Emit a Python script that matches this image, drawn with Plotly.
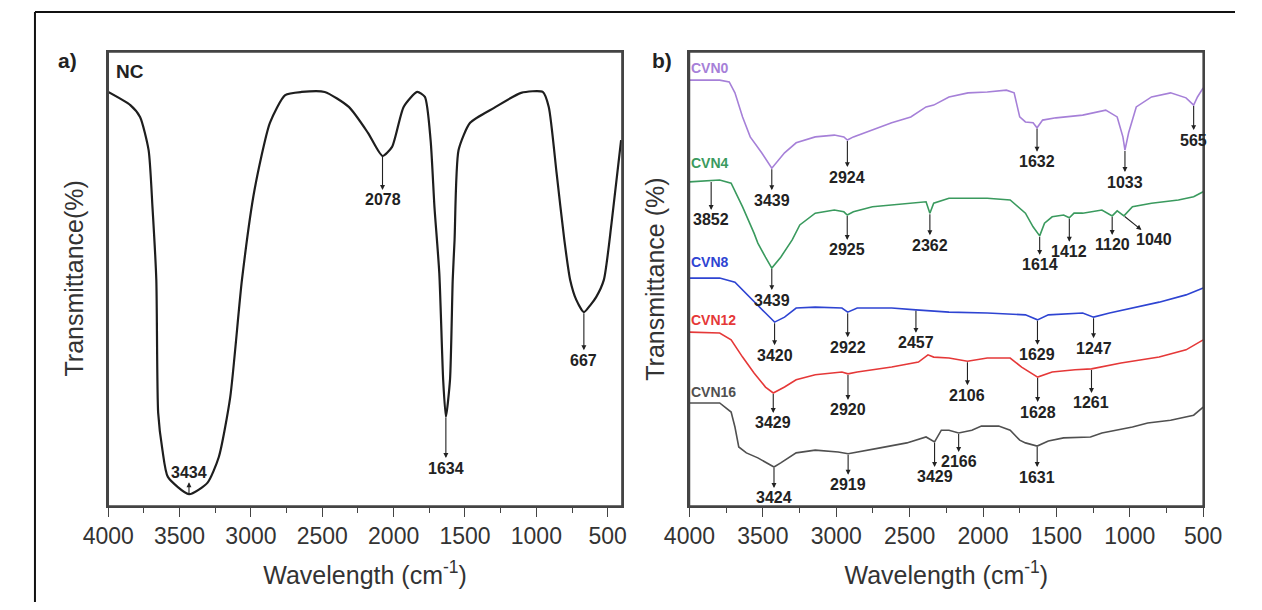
import numpy as np
import plotly.graph_objects as go

# ---------------- data ----------------
# Panel a) NC
nc_wn = [4000, 3845, 3777, 3717, 3690, 3663, 3650, 3620, 3582, 3434, 3305, 3225, 3145, 3063, 2975,
         2867, 2760, 2645, 2483, 2314, 2180, 2078, 2011, 1930, 1835, 1781, 1741, 1714, 1680, 1653,
         1634, 1605, 1586, 1573, 1545, 1464, 1296, 1107, 955, 913, 858, 804, 763, 720, 667, 620,
         581, 527, 473, 406]
nc_t = [91.2, 88.3, 85.7, 78.4, 65.9, 49.8, 20.5, 12.3, 6.4, 2.6, 5.1, 10.8, 24.0, 49.8, 69.6,
        84.4, 90.5, 91.2, 91.2, 87.9, 82.2, 77.1, 79.1, 87.9, 91.2, 90.1, 80.6, 65.9, 51.3, 27.8,
        19.6, 27.8, 49.8, 58.6, 78.4, 84.4, 87.7, 91.0, 91.2, 87.9, 73.3, 58.6, 49.8, 45.4, 42.7, 44.3,
        46.0, 49.8, 62.3, 80.6]

# Panel b)
cvn0_wn = [4000, 3794, 3729, 3690, 3638, 3586, 3508, 3439, 3352, 3273, 3143, 3013, 2948, 2924, 2883,
           2753, 2622, 2492, 2388, 2336, 2232, 2102, 1971, 1841, 1788, 1750, 1711, 1659, 1632, 1594,
           1503, 1321, 1164, 1086, 1047, 1033, 1008, 956, 852, 722, 617, 565, 539, 500]
cvn0_t = [93.8, 93.8, 93.4, 91.0, 85.7, 81.3, 77.8, 74.4, 77.8, 80.0, 81.3, 81.7, 81.3, 80.6, 81.3,
          82.8, 84.4, 85.7, 87.9, 88.3, 90.1, 91.0, 91.2, 91.6, 91.0, 85.7, 84.6, 84.4, 83.3, 85.0,
          85.5, 86.1, 87.2, 85.7, 81.3, 78.4, 82.2, 87.9, 90.1, 91.0, 89.9, 88.3, 90.1, 92.1]

cvn4_wn = [4000, 3852, 3794, 3716, 3638, 3560, 3534, 3482, 3439, 3378, 3300, 3248, 3143, 3013, 2948,
           2925, 2883, 2753, 2492, 2388, 2362, 2336, 2232, 1971, 1815, 1711, 1659, 1614, 1581, 1529,
           1451, 1412, 1380, 1321, 1190, 1120, 1086, 1040, 982, 852, 669, 565, 500]
cvn4_t = [71.4, 71.6, 71.8, 71.1, 65.9, 60.1, 57.9, 54.8, 52.4, 54.8, 58.6, 61.9, 64.5, 65.2, 64.8,
          64.1, 64.8, 65.9, 66.7, 67.0, 64.5, 66.7, 67.8, 67.8, 67.4, 64.5, 61.5, 59.5, 62.3, 63.7,
          64.1, 63.5, 64.5, 64.5, 65.2, 63.9, 65.0, 63.9, 65.9, 66.7, 67.4, 68.1, 69.2]

cvn8_wn = [4000, 3794, 3690, 3586, 3482, 3420, 3352, 3273, 3143, 2961, 2922, 2857, 2622, 2457, 2232,
           1971, 1711, 1629, 1555, 1321, 1247, 1138, 982, 800, 617, 500]
cvn8_t = [50.2, 50.2, 49.3, 46.0, 42.5, 40.5, 41.6, 43.6, 43.8, 43.6, 42.7, 43.6, 43.6, 43.2, 42.7,
          42.5, 42.1, 41.0, 42.1, 42.5, 41.6, 42.5, 43.6, 44.9, 46.5, 48.0]

cvn12_wn = [4000, 3794, 3716, 3638, 3560, 3482, 3429, 3352, 3273, 3143, 2961, 2920, 2857, 2622, 2440,
            2375, 2336, 2232, 2106, 1971, 1815, 1737, 1628, 1529, 1373, 1261, 1060, 800, 617, 500]
cvn12_t = [38.3, 38.1, 36.6, 32.8, 29.3, 26.2, 24.9, 26.2, 27.8, 28.9, 29.5, 29.1, 29.5, 30.6, 31.7,
           33.3, 32.8, 32.6, 31.9, 32.6, 32.6, 30.6, 28.4, 29.5, 30.0, 30.2, 31.5, 32.8, 34.4, 36.6]

cvn16_wn = [4000, 3794, 3716, 3690, 3664, 3612, 3534, 3424, 3378, 3273, 3143, 2987, 2919, 2857, 2701,
            2519, 2388, 2330, 2284, 2232, 2166, 2076, 2011, 1893, 1815, 1750, 1711, 1631, 1555, 1451,
            1268, 1190, 982, 878, 722, 565, 500]
cvn16_t = [22.7, 22.7, 20.7, 17.4, 13.0, 11.7, 10.6, 8.6, 9.5, 11.7, 12.3, 11.9, 11.5, 11.9, 12.8,
           13.9, 15.2, 14.1, 16.7, 16.7, 16.1, 16.7, 17.6, 17.6, 16.7, 14.5, 13.9, 13.2, 14.3, 15.0,
           15.2, 16.1, 17.4, 18.3, 18.9, 20.0, 21.8]

series_names = ["CVN0", "CVN4", "CVN8", "CVN12", "CVN16"]
series_wn = [cvn0_wn, cvn4_wn, cvn8_wn, cvn12_wn, cvn16_wn]
series_t = [cvn0_t, cvn4_t, cvn8_t, cvn12_t, cvn16_t]
series_colors = ["#a680d8", "#3a9a5e", "#2e44d2", "#e53838", "#505050"]
name_label_y = [96.5, 75.6, 53.7, 41.0, 25.1]

# peak labels: (wavenumber, text, ax px, ay px)
nc_peaks = [(3434, "3434", 0, -22), (2078, "2078", 0, 44), (1634, "1634", 0, 51), (667, "667", 0, 48)]
b_peaks = [
    ("CVN0", 3439, "3439", 0, 32), ("CVN0", 2924, "2924", 0, 37), ("CVN0", 1632, "1632", 0, 34),
    ("CVN0", 1033, "1033", 0, 32), ("CVN0", 565, "565", 0, 35),
    ("CVN4", 3852, "3852", 0, 39), ("CVN4", 3439, "3439", 0, 32), ("CVN4", 2925, "2925", 0, 35),
    ("CVN4", 2362, "2362", 0, 32), ("CVN4", 1614, "1614", 0, 29), ("CVN4", 1412, "1412", 0, 34),
    ("CVN4", 1120, "1120", 0, 29), ("CVN4", 1040, "1040", 30, 24),
    ("CVN8", 3420, "3420", 0, 33), ("CVN8", 2922, "2922", 0, 35), ("CVN8", 2457, "2457", 0, 33),
    ("CVN8", 1629, "1629", 0, 35), ("CVN8", 1247, "1247", 0, 31),
    ("CVN12", 3429, "3429", 0, 30), ("CVN12", 2920, "2920", 0, 36), ("CVN12", 2106, "2106", 0, 34),
    ("CVN12", 1628, "1628", 0, 35), ("CVN12", 1261, "1261", 0, 34),
    ("CVN16", 3424, "3424", 0, 31), ("CVN16", 2919, "2919", 0, 31), ("CVN16", 2330, "3429", 0, 35),
    ("CVN16", 2166, "2166", 0, 29), ("CVN16", 1631, "1631", 0, 31),
]

x_ticks = [4000, 3500, 3000, 2500, 2000, 1500, 1000, 500]

# ---------------- figure ----------------
FONT = "Arial, Liberation Sans, sans-serif"
# the page body has an 8px margin; size the figure so it fits the 1262x610 window exactly
OFF = 8
W, H = 1262 - 2 * OFF, 610 - 2 * OFF


def px(x):
    return (x - OFF) / W


def py(y):
    return 1 - (y - OFF) / H


def yval(wn, t, w):
    return float(np.interp(w, wn[::-1], t[::-1]))


fig = go.Figure()
fig.add_trace(go.Scatter(x=nc_wn, y=nc_t, mode="lines", name="NC",
                         line=dict(color="#1e1e1e", width=2.2, shape="spline", smoothing=0.6),
                         xaxis="x", yaxis="y", showlegend=False))
for nm, wn, t, c in zip(series_names, series_wn, series_t, series_colors):
    fig.add_trace(go.Scatter(x=wn, y=t, mode="lines", name=nm,
                             line=dict(color=c, width=1.6),
                             xaxis="x2", yaxis="y2", showlegend=False))

annotations = []
lab_font = dict(family=FONT, size=16, color="#222")


def peak_ann(xref, yref, w, y, text, ax, ay):
    return dict(x=w, y=y, xref=xref, yref=yref, text="<b>%s</b>" % text, showarrow=True,
                arrowside="start", startarrowhead=2, startarrowsize=0.9, arrowwidth=1.1,
                arrowcolor="#222", ax=ax, ay=ay, standoff=1, startstandoff=0,
                font=lab_font)


for w, txt, ax, ay in nc_peaks:
    annotations.append(peak_ann("x", "y", w, yval(nc_wn, nc_t, w), txt, ax, ay))
for nm, w, txt, ax, ay in b_peaks:
    i = series_names.index(nm)
    annotations.append(peak_ann("x2", "y2", w, yval(series_wn[i], series_t[i], w), txt, ax, ay))

for nm, c, yl in zip(series_names, series_colors, name_label_y):
    annotations.append(dict(x=4000, y=yl, xref="x2", yref="y2", text="<b>%s</b>" % nm,
                            showarrow=False, xanchor="left", yanchor="middle",
                            font=dict(family=FONT, size=14, color=c)))


def paper_text(x, y, text, size, color="#222", xanchor="center", angle=0):
    return dict(x=px(x), y=py(y), xref="paper", yref="paper", text=text, showarrow=False,
                xanchor=xanchor, yanchor="middle", textangle=angle,
                font=dict(family=FONT, size=size, color=color))


annotations += [
    paper_text(43, 61, "<b>a)</b>", 21),
    paper_text(660, 60, "<b>b)</b>", 21),
    paper_text(91, 71, "<b>NC</b>", 19, xanchor="left"),
    paper_text(49, 279, "Transmittance(%)", 25, color="#333", angle=-90),
    paper_text(652, 279, "Transmittance (%)", 25, color="#333", angle=-90),
]

xaxis_common = dict(
    showline=True, linecolor="#444", linewidth=1.6, mirror=True,
    ticks="outside", ticklen=9, tickwidth=1.4, tickcolor="#444",
    tickvals=x_ticks, ticktext=[str(v) for v in x_ticks],
    tickfont=dict(family=FONT, size=23, color="#333"),
    minor=dict(ticks="outside", ticklen=5, tickwidth=1.2, tickcolor="#444", dtick=250, tick0=0),
    showgrid=False, zeroline=False,
    title=dict(text="Wavelength (cm<sup>-1</sup>)", font=dict(family=FONT, size=25, color="#333"),
               standoff=18),
)
yaxis_common = dict(showline=True, linecolor="#444", linewidth=1.6, mirror=True, ticks="",
                    showticklabels=False, showgrid=False, zeroline=False, range=[0, 100])

box = dict(color="#444", width=1.6)
fig.update_layout(
    width=W, height=H, margin=dict(l=0, r=0, t=0, b=0),
    paper_bgcolor="white", plot_bgcolor="white",
    xaxis=dict(domain=[px(85), px(618)], range=[4000, 400], anchor="y", **xaxis_common),
    yaxis=dict(domain=[py(506), py(52)], anchor="x", **yaxis_common),
    xaxis2=dict(domain=[px(688), px(1221)], range=[4000, 500], anchor="y2", **xaxis_common),
    yaxis2=dict(domain=[py(506), py(52)], anchor="x2", **yaxis_common),
    annotations=annotations,
    shapes=[
        dict(type="rect", xref="x domain", yref="y domain", x0=0, x1=1, y0=0, y1=1, line=box),
        dict(type="rect", xref="x2 domain", yref="y2 domain", x0=0, x1=1, y0=0, y1=1, line=box),
        dict(type="line", xref="paper", yref="paper", x0=px(9), x1=1, y0=py(12), y1=py(12),
             line=dict(color="#111", width=2)),
        dict(type="line", xref="paper", yref="paper", x0=px(9), x1=px(9), y0=0, y1=py(12),
             line=dict(color="#111", width=2)),
    ],
    showlegend=False,
)

fig.write_html("out.html")
